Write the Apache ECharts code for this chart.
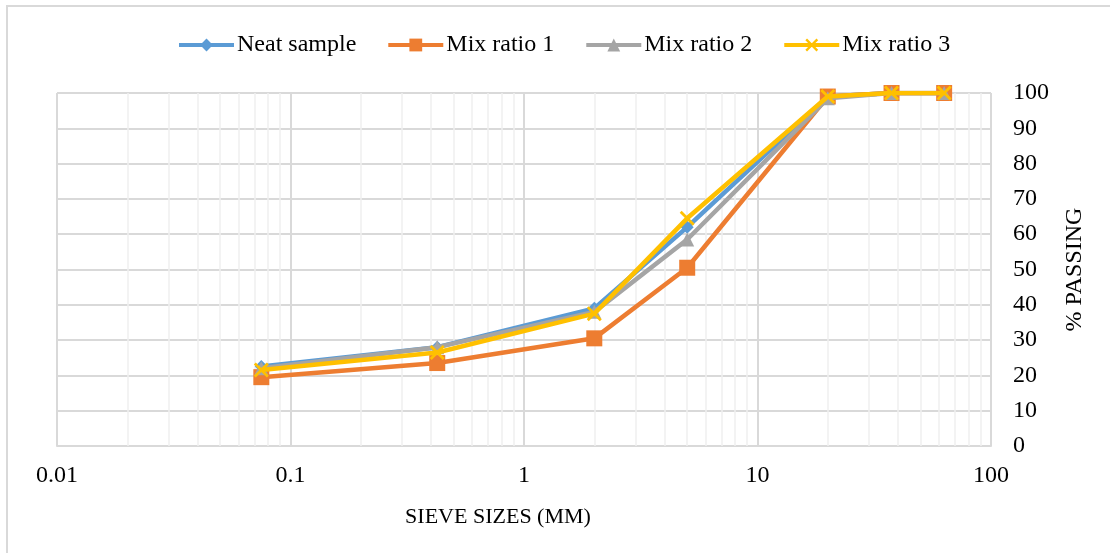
<!DOCTYPE html>
<html>
<head>
<meta charset="utf-8">
<script src="https://cdn.jsdelivr.net/npm/echarts@6/dist/echarts.min.js"></script>
<style>html,body{margin:0;padding:0;background:#fff;}#c{width:1110px;height:553px;}</style>
</head>
<body>
<div id="c"></div>
<script>
// Sieve sizes (mm)
const sieveSizes = [0.075, 0.425, 2, 5, 20, 37.5, 63];
const seriesNames = ['Neat sample', 'Mix ratio 1', 'Mix ratio 2', 'Mix ratio 3'];
const neatSample = [22.5, 28, 39, 62, 99, 100, 100];
const mixRatio1  = [19.5, 23.5, 30.5, 50.5, 99, 100, 100];
const mixRatio2  = [22, 28, 38, 58.5, 98.5, 100, 100];
const mixRatio3  = [21.5, 26.5, 37.5, 64.5, 99, 100, 100];
const xTickLabels = ['0.01', '0.1', '1', '10', '100'];
const yTickLabels = ['0','10','20','30','40','50','60','70','80','90','100'];

const FONT = '"Liberation Serif", "DejaVu Serif", serif';
const colors = ['#5b9bd5', '#ed7d31', '#a5a5a5', '#ffc000'];
const xSym = 'path://M0,1.3 L1.3,0 L10,8.7 L8.7,10 Z M8.7,0 L10,1.3 L1.3,10 L0,8.7 Z';
const symbols = ['diamond', 'rect', 'triangle', xSym];
const symbolSizes = [13, 16, 14, 15];
const values = [neatSample, mixRatio1, mixRatio2, mixRatio3];

// minor grid positions (2..9 x decade)
const minorX = [];
[0.01, 0.1, 1, 10].forEach(d => { for (let k = 2; k <= 9; k++) minorX.push(+(d * k).toPrecision(3)); });

const series = values.map((v, i) => ({
  name: seriesNames[i],
  type: 'line',
  data: sieveSizes.map((s, j) => [s, v[j]]),
  symbol: symbols[i],
  symbolSize: symbolSizes[i],
  z: 3 + i,
  itemStyle: { color: colors[i] },
  lineStyle: { color: colors[i], width: 4.5 },
  emphasis: { disabled: true },
  animation: false
}));
series.push({
  type: 'line', data: [], silent: true, z: 1,
  markLine: {
    silent: true, symbol: 'none', animation: false, z: 1,
    label: { show: false },
    lineStyle: { color: '#efefef', width: 1.5, type: 'solid' },
    emphasis: { disabled: true },
    data: minorX.map(x => ({ xAxis: x }))
  }
});

const chart = echarts.init(document.getElementById('c'), null, { renderer: 'canvas' });
chart.setOption({
  animation: false,
  backgroundColor: '#fff',
  textStyle: { fontFamily: FONT },
  graphic: [{
    type: 'rect', silent: true, z: -1,
    shape: { x: 7, y: 6, width: 1300, height: 700 },
    style: { fill: 'none', stroke: '#d9d9d9', lineWidth: 2 }
  }],
  legend: {
    top: 28, left: 172,
    itemWidth: 55, itemHeight: 16, itemGap: 30,
    lineStyle: { width: 4 },
    textStyle: { fontFamily: FONT, fontSize: 24, color: '#000', padding: [0, 0, 0, -2] },
    data: seriesNames
  },
  grid: { left: 57, right: 119, top: 93, bottom: 107, containLabel: false },
  xAxis: {
    type: 'log', logBase: 10, min: 0.01, max: 100,
    name: 'SIEVE SIZES (MM)', nameLocation: 'middle', nameGap: 60,
    nameTextStyle: { fontFamily: FONT, fontSize: 22, color: '#000', padding: [0, 52, 0, 0] },
    axisLine: { show: true, lineStyle: { color: '#d9d9d9', width: 2 } },
    axisTick: { show: false },
    axisLabel: {
      margin: 18, fontFamily: FONT, fontSize: 24, color: '#000',
      formatter: v => { const i = Math.round(Math.log10(v)) + 2; return xTickLabels[i] ?? String(v); }
    },
    splitLine: { show: true, lineStyle: { color: '#d9d9d9', width: 2 } }
  },
  yAxis: {
    type: 'value', position: 'right', min: 0, max: 100, interval: 10,
    name: '% PASSING', nameLocation: 'middle', nameGap: 72, nameRotate: 90,
    nameTextStyle: { fontFamily: FONT, fontSize: 24, color: '#000' },
    axisLine: { show: false },
    axisTick: { show: false },
    axisLabel: {
      margin: 22, fontFamily: FONT, fontSize: 24, color: '#000',
      formatter: v => yTickLabels[Math.round(v / 10)]
    },
    splitLine: { show: true, lineStyle: { color: '#d9d9d9', width: 2 } }
  },
  series: series
});
</script>
</body>
</html>
